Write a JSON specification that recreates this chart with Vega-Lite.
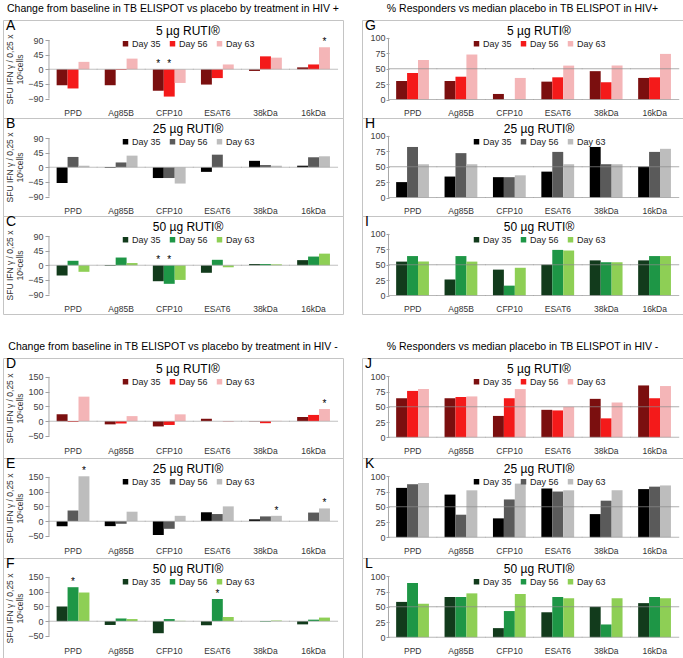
{
  "$schema": "https://vega.github.io/schema/vega-lite/v6.json",
  "padding": {"left": 2, "top": 4, "right": 1, "bottom": 1},
  "background": "white",
  "data": {"name": "elispot"},
  "datasets": {
    "elispot": [
      {"panel":"A","antigen":"PPD","day":"Day 35","value":-49},
      {"panel":"A","antigen":"PPD","day":"Day 56","value":-59},
      {"panel":"A","antigen":"PPD","day":"Day 63","value":23},
      {"panel":"A","antigen":"Ag85B","day":"Day 35","value":-49},
      {"panel":"A","antigen":"Ag85B","day":"Day 56","value":-2},
      {"panel":"A","antigen":"Ag85B","day":"Day 63","value":33},
      {"panel":"A","antigen":"CFP10","day":"Day 35","value":-66,"sig":1},
      {"panel":"A","antigen":"CFP10","day":"Day 56","value":-84,"sig":1},
      {"panel":"A","antigen":"CFP10","day":"Day 63","value":-42},
      {"panel":"A","antigen":"ESAT6","day":"Day 35","value":-47},
      {"panel":"A","antigen":"ESAT6","day":"Day 56","value":-27},
      {"panel":"A","antigen":"ESAT6","day":"Day 63","value":15},
      {"panel":"A","antigen":"38kDa","day":"Day 35","value":-5},
      {"panel":"A","antigen":"38kDa","day":"Day 56","value":40},
      {"panel":"A","antigen":"38kDa","day":"Day 63","value":36},
      {"panel":"A","antigen":"16kDa","day":"Day 35","value":6},
      {"panel":"A","antigen":"16kDa","day":"Day 56","value":15},
      {"panel":"A","antigen":"16kDa","day":"Day 63","value":68,"sig":1},

      {"panel":"B","antigen":"PPD","day":"Day 35","value":-48},
      {"panel":"B","antigen":"PPD","day":"Day 56","value":32},
      {"panel":"B","antigen":"PPD","day":"Day 63","value":5},
      {"panel":"B","antigen":"Ag85B","day":"Day 35","value":-2},
      {"panel":"B","antigen":"Ag85B","day":"Day 56","value":15},
      {"panel":"B","antigen":"Ag85B","day":"Day 63","value":36},
      {"panel":"B","antigen":"CFP10","day":"Day 35","value":-33},
      {"panel":"B","antigen":"CFP10","day":"Day 56","value":-33},
      {"panel":"B","antigen":"CFP10","day":"Day 63","value":-50},
      {"panel":"B","antigen":"ESAT6","day":"Day 35","value":-14},
      {"panel":"B","antigen":"ESAT6","day":"Day 56","value":39},
      {"panel":"B","antigen":"ESAT6","day":"Day 63","value":0},
      {"panel":"B","antigen":"38kDa","day":"Day 35","value":20},
      {"panel":"B","antigen":"38kDa","day":"Day 56","value":7},
      {"panel":"B","antigen":"38kDa","day":"Day 63","value":5},
      {"panel":"B","antigen":"16kDa","day":"Day 35","value":5},
      {"panel":"B","antigen":"16kDa","day":"Day 56","value":31},
      {"panel":"B","antigen":"16kDa","day":"Day 63","value":34},

      {"panel":"C","antigen":"PPD","day":"Day 35","value":-31},
      {"panel":"C","antigen":"PPD","day":"Day 56","value":14},
      {"panel":"C","antigen":"PPD","day":"Day 63","value":-20},
      {"panel":"C","antigen":"Ag85B","day":"Day 35","value":-2},
      {"panel":"C","antigen":"Ag85B","day":"Day 56","value":24},
      {"panel":"C","antigen":"Ag85B","day":"Day 63","value":7},
      {"panel":"C","antigen":"CFP10","day":"Day 35","value":-49,"sig":1},
      {"panel":"C","antigen":"CFP10","day":"Day 56","value":-57,"sig":1},
      {"panel":"C","antigen":"CFP10","day":"Day 63","value":-45},
      {"panel":"C","antigen":"ESAT6","day":"Day 35","value":-23},
      {"panel":"C","antigen":"ESAT6","day":"Day 56","value":17},
      {"panel":"C","antigen":"ESAT6","day":"Day 63","value":-6},
      {"panel":"C","antigen":"38kDa","day":"Day 35","value":4},
      {"panel":"C","antigen":"38kDa","day":"Day 56","value":4},
      {"panel":"C","antigen":"38kDa","day":"Day 63","value":3},
      {"panel":"C","antigen":"16kDa","day":"Day 35","value":16},
      {"panel":"C","antigen":"16kDa","day":"Day 56","value":27},
      {"panel":"C","antigen":"16kDa","day":"Day 63","value":36},

      {"panel":"D","antigen":"PPD","day":"Day 35","value":23},
      {"panel":"D","antigen":"PPD","day":"Day 56","value":-3},
      {"panel":"D","antigen":"PPD","day":"Day 63","value":83},
      {"panel":"D","antigen":"Ag85B","day":"Day 35","value":-11},
      {"panel":"D","antigen":"Ag85B","day":"Day 56","value":-8},
      {"panel":"D","antigen":"Ag85B","day":"Day 63","value":17},
      {"panel":"D","antigen":"CFP10","day":"Day 35","value":-18},
      {"panel":"D","antigen":"CFP10","day":"Day 56","value":-13},
      {"panel":"D","antigen":"CFP10","day":"Day 63","value":23},
      {"panel":"D","antigen":"ESAT6","day":"Day 35","value":8},
      {"panel":"D","antigen":"ESAT6","day":"Day 56","value":0},
      {"panel":"D","antigen":"ESAT6","day":"Day 63","value":-3},
      {"panel":"D","antigen":"38kDa","day":"Day 35","value":-1},
      {"panel":"D","antigen":"38kDa","day":"Day 56","value":-7},
      {"panel":"D","antigen":"38kDa","day":"Day 63","value":1},
      {"panel":"D","antigen":"16kDa","day":"Day 35","value":14},
      {"panel":"D","antigen":"16kDa","day":"Day 56","value":21},
      {"panel":"D","antigen":"16kDa","day":"Day 63","value":41,"sig":1},

      {"panel":"E","antigen":"PPD","day":"Day 35","value":-17},
      {"panel":"E","antigen":"PPD","day":"Day 56","value":36},
      {"panel":"E","antigen":"PPD","day":"Day 63","value":152,"sig":1},
      {"panel":"E","antigen":"Ag85B","day":"Day 35","value":-17},
      {"panel":"E","antigen":"Ag85B","day":"Day 56","value":-9},
      {"panel":"E","antigen":"Ag85B","day":"Day 63","value":32},
      {"panel":"E","antigen":"CFP10","day":"Day 35","value":-47},
      {"panel":"E","antigen":"CFP10","day":"Day 56","value":-26},
      {"panel":"E","antigen":"CFP10","day":"Day 63","value":18},
      {"panel":"E","antigen":"ESAT6","day":"Day 35","value":30},
      {"panel":"E","antigen":"ESAT6","day":"Day 56","value":24},
      {"panel":"E","antigen":"ESAT6","day":"Day 63","value":50},
      {"panel":"E","antigen":"38kDa","day":"Day 35","value":6},
      {"panel":"E","antigen":"38kDa","day":"Day 56","value":16},
      {"panel":"E","antigen":"38kDa","day":"Day 63","value":18,"sig":1},
      {"panel":"E","antigen":"16kDa","day":"Day 35","value":0},
      {"panel":"E","antigen":"16kDa","day":"Day 56","value":29},
      {"panel":"E","antigen":"16kDa","day":"Day 63","value":43,"sig":1},

      {"panel":"F","antigen":"PPD","day":"Day 35","value":50},
      {"panel":"F","antigen":"PPD","day":"Day 56","value":115,"sig":1},
      {"panel":"F","antigen":"PPD","day":"Day 63","value":97},
      {"panel":"F","antigen":"Ag85B","day":"Day 35","value":-13},
      {"panel":"F","antigen":"Ag85B","day":"Day 56","value":9},
      {"panel":"F","antigen":"Ag85B","day":"Day 63","value":7},
      {"panel":"F","antigen":"CFP10","day":"Day 35","value":-41},
      {"panel":"F","antigen":"CFP10","day":"Day 56","value":7},
      {"panel":"F","antigen":"CFP10","day":"Day 63","value":1},
      {"panel":"F","antigen":"ESAT6","day":"Day 35","value":-14},
      {"panel":"F","antigen":"ESAT6","day":"Day 56","value":75,"sig":1},
      {"panel":"F","antigen":"ESAT6","day":"Day 63","value":14},
      {"panel":"F","antigen":"38kDa","day":"Day 35","value":0},
      {"panel":"F","antigen":"38kDa","day":"Day 56","value":-2},
      {"panel":"F","antigen":"38kDa","day":"Day 63","value":2},
      {"panel":"F","antigen":"16kDa","day":"Day 35","value":-11},
      {"panel":"F","antigen":"16kDa","day":"Day 56","value":5},
      {"panel":"F","antigen":"16kDa","day":"Day 63","value":12},

      {"panel":"G","antigen":"PPD","day":"Day 35","value":30},
      {"panel":"G","antigen":"PPD","day":"Day 56","value":43},
      {"panel":"G","antigen":"PPD","day":"Day 63","value":64},
      {"panel":"G","antigen":"Ag85B","day":"Day 35","value":30},
      {"panel":"G","antigen":"Ag85B","day":"Day 56","value":37},
      {"panel":"G","antigen":"Ag85B","day":"Day 63","value":73},
      {"panel":"G","antigen":"CFP10","day":"Day 35","value":9},
      {"panel":"G","antigen":"CFP10","day":"Day 56","value":0},
      {"panel":"G","antigen":"CFP10","day":"Day 63","value":35},
      {"panel":"G","antigen":"ESAT6","day":"Day 35","value":29},
      {"panel":"G","antigen":"ESAT6","day":"Day 56","value":36},
      {"panel":"G","antigen":"ESAT6","day":"Day 63","value":55},
      {"panel":"G","antigen":"38kDa","day":"Day 35","value":46},
      {"panel":"G","antigen":"38kDa","day":"Day 56","value":28},
      {"panel":"G","antigen":"38kDa","day":"Day 63","value":55},
      {"panel":"G","antigen":"16kDa","day":"Day 35","value":35},
      {"panel":"G","antigen":"16kDa","day":"Day 56","value":36},
      {"panel":"G","antigen":"16kDa","day":"Day 63","value":74},

      {"panel":"H","antigen":"PPD","day":"Day 35","value":25},
      {"panel":"H","antigen":"PPD","day":"Day 56","value":82},
      {"panel":"H","antigen":"PPD","day":"Day 63","value":54},
      {"panel":"H","antigen":"Ag85B","day":"Day 35","value":34},
      {"panel":"H","antigen":"Ag85B","day":"Day 56","value":72},
      {"panel":"H","antigen":"Ag85B","day":"Day 63","value":54},
      {"panel":"H","antigen":"CFP10","day":"Day 35","value":33},
      {"panel":"H","antigen":"CFP10","day":"Day 56","value":33},
      {"panel":"H","antigen":"CFP10","day":"Day 63","value":36},
      {"panel":"H","antigen":"ESAT6","day":"Day 35","value":42},
      {"panel":"H","antigen":"ESAT6","day":"Day 56","value":74},
      {"panel":"H","antigen":"ESAT6","day":"Day 63","value":54},
      {"panel":"H","antigen":"38kDa","day":"Day 35","value":82},
      {"panel":"H","antigen":"38kDa","day":"Day 56","value":54},
      {"panel":"H","antigen":"38kDa","day":"Day 63","value":54},
      {"panel":"H","antigen":"16kDa","day":"Day 35","value":50},
      {"panel":"H","antigen":"16kDa","day":"Day 56","value":74},
      {"panel":"H","antigen":"16kDa","day":"Day 63","value":79},

      {"panel":"I","antigen":"PPD","day":"Day 35","value":55},
      {"panel":"I","antigen":"PPD","day":"Day 56","value":64},
      {"panel":"I","antigen":"PPD","day":"Day 63","value":55},
      {"panel":"I","antigen":"Ag85B","day":"Day 35","value":26},
      {"panel":"I","antigen":"Ag85B","day":"Day 56","value":64},
      {"panel":"I","antigen":"Ag85B","day":"Day 63","value":55},
      {"panel":"I","antigen":"CFP10","day":"Day 35","value":42},
      {"panel":"I","antigen":"CFP10","day":"Day 56","value":16},
      {"panel":"I","antigen":"CFP10","day":"Day 63","value":45},
      {"panel":"I","antigen":"ESAT6","day":"Day 35","value":50},
      {"panel":"I","antigen":"ESAT6","day":"Day 56","value":74},
      {"panel":"I","antigen":"ESAT6","day":"Day 63","value":73},
      {"panel":"I","antigen":"38kDa","day":"Day 35","value":57},
      {"panel":"I","antigen":"38kDa","day":"Day 56","value":54},
      {"panel":"I","antigen":"38kDa","day":"Day 63","value":54},
      {"panel":"I","antigen":"16kDa","day":"Day 35","value":57},
      {"panel":"I","antigen":"16kDa","day":"Day 56","value":64},
      {"panel":"I","antigen":"16kDa","day":"Day 63","value":64},

      {"panel":"J","antigen":"PPD","day":"Day 35","value":64},
      {"panel":"J","antigen":"PPD","day":"Day 56","value":76},
      {"panel":"J","antigen":"PPD","day":"Day 63","value":79},
      {"panel":"J","antigen":"Ag85B","day":"Day 35","value":64},
      {"panel":"J","antigen":"Ag85B","day":"Day 56","value":66},
      {"panel":"J","antigen":"Ag85B","day":"Day 63","value":67},
      {"panel":"J","antigen":"CFP10","day":"Day 35","value":35},
      {"panel":"J","antigen":"CFP10","day":"Day 56","value":64},
      {"panel":"J","antigen":"CFP10","day":"Day 63","value":79},
      {"panel":"J","antigen":"ESAT6","day":"Day 35","value":45},
      {"panel":"J","antigen":"ESAT6","day":"Day 56","value":44},
      {"panel":"J","antigen":"ESAT6","day":"Day 63","value":50},
      {"panel":"J","antigen":"38kDa","day":"Day 35","value":63},
      {"panel":"J","antigen":"38kDa","day":"Day 56","value":31},
      {"panel":"J","antigen":"38kDa","day":"Day 63","value":57},
      {"panel":"J","antigen":"16kDa","day":"Day 35","value":85},
      {"panel":"J","antigen":"16kDa","day":"Day 56","value":64},
      {"panel":"J","antigen":"16kDa","day":"Day 63","value":84},

      {"panel":"K","antigen":"PPD","day":"Day 35","value":81},
      {"panel":"K","antigen":"PPD","day":"Day 56","value":87},
      {"panel":"K","antigen":"PPD","day":"Day 63","value":89},
      {"panel":"K","antigen":"Ag85B","day":"Day 35","value":70},
      {"panel":"K","antigen":"Ag85B","day":"Day 56","value":37},
      {"panel":"K","antigen":"Ag85B","day":"Day 63","value":77},
      {"panel":"K","antigen":"CFP10","day":"Day 35","value":31},
      {"panel":"K","antigen":"CFP10","day":"Day 56","value":62},
      {"panel":"K","antigen":"CFP10","day":"Day 63","value":88},
      {"panel":"K","antigen":"ESAT6","day":"Day 35","value":80},
      {"panel":"K","antigen":"ESAT6","day":"Day 56","value":75},
      {"panel":"K","antigen":"ESAT6","day":"Day 63","value":77},
      {"panel":"K","antigen":"38kDa","day":"Day 35","value":38},
      {"panel":"K","antigen":"38kDa","day":"Day 56","value":60},
      {"panel":"K","antigen":"38kDa","day":"Day 63","value":77},
      {"panel":"K","antigen":"16kDa","day":"Day 35","value":79},
      {"panel":"K","antigen":"16kDa","day":"Day 56","value":83},
      {"panel":"K","antigen":"16kDa","day":"Day 63","value":85},

      {"panel":"L","antigen":"PPD","day":"Day 35","value":58},
      {"panel":"L","antigen":"PPD","day":"Day 56","value":89},
      {"panel":"L","antigen":"PPD","day":"Day 63","value":55},
      {"panel":"L","antigen":"Ag85B","day":"Day 35","value":66},
      {"panel":"L","antigen":"Ag85B","day":"Day 56","value":66},
      {"panel":"L","antigen":"Ag85B","day":"Day 63","value":72},
      {"panel":"L","antigen":"CFP10","day":"Day 35","value":15},
      {"panel":"L","antigen":"CFP10","day":"Day 56","value":43},
      {"panel":"L","antigen":"CFP10","day":"Day 63","value":71},
      {"panel":"L","antigen":"ESAT6","day":"Day 35","value":41},
      {"panel":"L","antigen":"ESAT6","day":"Day 56","value":66},
      {"panel":"L","antigen":"ESAT6","day":"Day 63","value":64},
      {"panel":"L","antigen":"38kDa","day":"Day 35","value":50},
      {"panel":"L","antigen":"38kDa","day":"Day 56","value":21},
      {"panel":"L","antigen":"38kDa","day":"Day 63","value":64},
      {"panel":"L","antigen":"16kDa","day":"Day 35","value":56},
      {"panel":"L","antigen":"16kDa","day":"Day 56","value":66},
      {"panel":"L","antigen":"16kDa","day":"Day 63","value":64}
    ]
  },
  "spacing": 27,
  "resolve": {"scale": {"color": "independent"}},
  "vconcat": [
    {
      "spacing": 17,
      "resolve": {"scale": {"color": "independent"}},
      "hconcat": [
        {
          "title": {"text": "Change from baseline in TB ELISPOT vs placebo by treatment in HIV +", "anchor": "middle", "fontSize": 10.5, "fontWeight": "normal", "color": "#000000", "offset": 4},
          "spacing": 0,
          "bounds": "flush",
          "resolve": {"scale": {"color": "independent"}},
          "vconcat": [
            {
              "width": 340, "height": 98,
              "transform": [{"filter": "datum.panel == 'A'"}],
              "title": {"text": "A", "anchor": "start", "frame": "group", "offset": -13, "dx": 3, "fontSize": 14, "fontWeight": "normal", "color": "#000000"},
              "layer": [
                {"mark": {"type": "bar"},
                 "encoding": {
                   "x": {"field": "antigen", "type": "nominal", "scale": {"domain": ["PPD","Ag85B","CFP10","ESAT6","38kDa","16kDa"], "paddingInner": 0, "paddingOuter": 0.534, "align": 0.895}, "axis": {"title": null, "offset": -12, "domain": false, "ticks": false, "labelAngle": 0, "labelPadding": 2, "labelFontSize": 8.5, "labelColor": "#333333", "labelOverlap": false}},
                   "xOffset": {"field": "day", "type": "nominal", "scale": {"paddingInner": 0, "paddingOuter": 0.7}},
                   "y": {"field": "value", "type": "quantitative", "scale": {"domain": [-150, 152], "nice": false}, "axis": {"values": [-90,-45,0,45,90], "tickCount": 10, "offset": -46, "domain": false, "grid": false, "tickSize": 4, "tickColor": "#a0a0a0", "labelFontSize": 9, "labelColor": "#404040", "labelPadding": 2, "labelOverlap": false, "title": ["SFU IFN γ / 0,25 x", "10⁶cells"], "titleFontSize": 8.5, "titleFontWeight": "normal", "titleColor": "#333333", "titlePadding": 3}},
                   "color": {"field": "day", "type": "nominal", "scale": {"domain": ["Day 35","Day 56","Day 63"], "range": ["#7b0f0f","#f41a1a","#f4b5b7"]}, "legend": {"title": "5 µg RUTI®", "legendX": 118, "legendY": 6}}
                 }},
                {"transform": [{"filter": "datum.day == 'Day 35'"}], "mark": {"type": "tick", "orient": "horizontal", "size": 49, "thickness": 1, "color": "#a6a6a6"}, "encoding": {"x": {"field": "antigen", "type": "nominal"}, "y": {"datum": 0}}},
                {"transform": [{"filter": "datum.day == 'Day 35' && datum.antigen == 'PPD'"}], "mark": {"type": "rule", "color": "#a6a6a6", "strokeWidth": 1}, "encoding": {"x": {"field": "antigen", "type": "nominal", "bandPosition": 0}, "y": {"datum": -90}, "y2": {"datum": 90}}},
                {"transform": [{"filter": "datum.sig == 1 && datum.value > 0"}], "mark": {"type": "text", "text": "*", "fontSize": 10, "baseline": "bottom", "color": "#000000"}, "encoding": {"x": {"field": "antigen", "type": "nominal"}, "xOffset": {"field": "day", "type": "nominal"}, "y": {"field": "value", "type": "quantitative"}}},
                {"transform": [{"filter": "datum.sig == 1 && datum.value <= 0"}], "mark": {"type": "text", "text": "*", "fontSize": 10, "baseline": "bottom", "color": "#000000"}, "encoding": {"x": {"field": "antigen", "type": "nominal"}, "xOffset": {"field": "day", "type": "nominal"}, "y": {"datum": 0}}}
              ]
            },
            {
              "width": 340, "height": 98,
              "transform": [{"filter": "datum.panel == 'B'"}],
              "title": {"text": "B", "anchor": "start", "frame": "group", "offset": -13, "dx": 3, "fontSize": 14, "fontWeight": "normal", "color": "#000000"},
              "layer": [
                {"mark": {"type": "bar"},
                 "encoding": {
                   "x": {"field": "antigen", "type": "nominal", "scale": {"domain": ["PPD","Ag85B","CFP10","ESAT6","38kDa","16kDa"], "paddingInner": 0, "paddingOuter": 0.534, "align": 0.895}, "axis": {"title": null, "offset": -12, "domain": false, "ticks": false, "labelAngle": 0, "labelPadding": 2, "labelFontSize": 8.5, "labelColor": "#333333", "labelOverlap": false}},
                   "xOffset": {"field": "day", "type": "nominal", "scale": {"paddingInner": 0, "paddingOuter": 0.7}},
                   "y": {"field": "value", "type": "quantitative", "scale": {"domain": [-150, 152], "nice": false}, "axis": {"values": [-90,-45,0,45,90], "tickCount": 10, "offset": -46, "domain": false, "grid": false, "tickSize": 4, "tickColor": "#a0a0a0", "labelFontSize": 9, "labelColor": "#404040", "labelPadding": 2, "labelOverlap": false, "title": ["SFU IFN γ / 0,25 x", "10⁶cells"], "titleFontSize": 8.5, "titleFontWeight": "normal", "titleColor": "#333333", "titlePadding": 3}},
                   "color": {"field": "day", "type": "nominal", "scale": {"domain": ["Day 35","Day 56","Day 63"], "range": ["#000000","#5a5a5a","#bdbdbd"]}, "legend": {"title": "25 µg RUTI®", "legendX": 118, "legendY": 6}}
                 }},
                {"transform": [{"filter": "datum.day == 'Day 35'"}], "mark": {"type": "tick", "orient": "horizontal", "size": 49, "thickness": 1, "color": "#a6a6a6"}, "encoding": {"x": {"field": "antigen", "type": "nominal"}, "y": {"datum": 0}}},
                {"transform": [{"filter": "datum.day == 'Day 35' && datum.antigen == 'PPD'"}], "mark": {"type": "rule", "color": "#a6a6a6", "strokeWidth": 1}, "encoding": {"x": {"field": "antigen", "type": "nominal", "bandPosition": 0}, "y": {"datum": -90}, "y2": {"datum": 90}}}
              ]
            },
            {
              "width": 340, "height": 98,
              "transform": [{"filter": "datum.panel == 'C'"}],
              "title": {"text": "C", "anchor": "start", "frame": "group", "offset": -13, "dx": 3, "fontSize": 14, "fontWeight": "normal", "color": "#000000"},
              "layer": [
                {"mark": {"type": "bar"},
                 "encoding": {
                   "x": {"field": "antigen", "type": "nominal", "scale": {"domain": ["PPD","Ag85B","CFP10","ESAT6","38kDa","16kDa"], "paddingInner": 0, "paddingOuter": 0.534, "align": 0.895}, "axis": {"title": null, "offset": -12, "domain": false, "ticks": false, "labelAngle": 0, "labelPadding": 2, "labelFontSize": 8.5, "labelColor": "#333333", "labelOverlap": false}},
                   "xOffset": {"field": "day", "type": "nominal", "scale": {"paddingInner": 0, "paddingOuter": 0.7}},
                   "y": {"field": "value", "type": "quantitative", "scale": {"domain": [-150, 152], "nice": false}, "axis": {"values": [-90,-45,0,45,90], "tickCount": 10, "offset": -46, "domain": false, "grid": false, "tickSize": 4, "tickColor": "#a0a0a0", "labelFontSize": 9, "labelColor": "#404040", "labelPadding": 2, "labelOverlap": false, "title": ["SFU IFN γ / 0,25 x", "10⁶cells"], "titleFontSize": 8.5, "titleFontWeight": "normal", "titleColor": "#333333", "titlePadding": 3}},
                   "color": {"field": "day", "type": "nominal", "scale": {"domain": ["Day 35","Day 56","Day 63"], "range": ["#123b1c","#1e9646","#8ecf55"]}, "legend": {"title": "50 µg RUTI®", "legendX": 118, "legendY": 6}}
                 }},
                {"transform": [{"filter": "datum.day == 'Day 35'"}], "mark": {"type": "tick", "orient": "horizontal", "size": 49, "thickness": 1, "color": "#a6a6a6"}, "encoding": {"x": {"field": "antigen", "type": "nominal"}, "y": {"datum": 0}}},
                {"transform": [{"filter": "datum.day == 'Day 35' && datum.antigen == 'PPD'"}], "mark": {"type": "rule", "color": "#a6a6a6", "strokeWidth": 1}, "encoding": {"x": {"field": "antigen", "type": "nominal", "bandPosition": 0}, "y": {"datum": -90}, "y2": {"datum": 90}}},
                {"transform": [{"filter": "datum.sig == 1 && datum.value > 0"}], "mark": {"type": "text", "text": "*", "fontSize": 10, "baseline": "bottom", "color": "#000000"}, "encoding": {"x": {"field": "antigen", "type": "nominal"}, "xOffset": {"field": "day", "type": "nominal"}, "y": {"field": "value", "type": "quantitative"}}},
                {"transform": [{"filter": "datum.sig == 1 && datum.value <= 0"}], "mark": {"type": "text", "text": "*", "fontSize": 10, "baseline": "bottom", "color": "#000000"}, "encoding": {"x": {"field": "antigen", "type": "nominal"}, "xOffset": {"field": "day", "type": "nominal"}, "y": {"datum": 0}}}
              ]
            }
          ]
        },
        {
          "title": {"text": "% Responders vs median placebo in TB ELISPOT in HIV+", "anchor": "middle", "fontSize": 10.5, "fontWeight": "normal", "color": "#000000", "offset": 4},
          "spacing": 0,
          "bounds": "flush",
          "resolve": {"scale": {"color": "independent"}},
          "vconcat": [
            {
              "width": 321, "height": 98,
              "transform": [{"filter": "datum.panel == 'G'"}],
              "title": {"text": "G", "anchor": "start", "frame": "group", "offset": -13, "dx": 3, "fontSize": 14, "fontWeight": "normal", "color": "#000000"},
              "layer": [
                {"mark": {"type": "bar"},
                 "encoding": {
                   "x": {"field": "antigen", "type": "nominal", "scale": {"domain": ["PPD","Ag85B","CFP10","ESAT6","38kDa","16kDa"], "paddingInner": 0, "paddingOuter": 0.316, "align": 0.866}, "axis": {"title": null, "offset": -12, "domain": false, "ticks": false, "labelAngle": 0, "labelPadding": 2, "labelFontSize": 8.5, "labelColor": "#333333", "labelOverlap": false}},
                   "xOffset": {"field": "day", "type": "nominal", "scale": {"paddingInner": 0, "paddingOuter": 0.7}},
                   "y": {"field": "value", "type": "quantitative", "scale": {"domain": [-30, 129], "nice": false}, "axis": {"values": [0,25,50,75,100], "tickCount": 10, "offset": -27, "domain": false, "grid": false, "tickSize": 3, "tickColor": "#a0a0a0", "labelFontSize": 9, "labelColor": "#404040", "labelPadding": 1, "labelOverlap": false, "title": null}},
                   "color": {"field": "day", "type": "nominal", "scale": {"domain": ["Day 35","Day 56","Day 63"], "range": ["#7b0f0f","#f41a1a","#f4b5b7"]}, "legend": {"title": "5 µg RUTI®", "legendX": 110, "legendY": 6}}
                 }},
                {"transform": [{"filter": "datum.day == 'Day 35'"}], "mark": {"type": "tick", "orient": "horizontal", "size": 49, "thickness": 1, "color": "#999999"}, "encoding": {"x": {"field": "antigen", "type": "nominal"}, "y": {"datum": 0}}},
                {"transform": [{"filter": "datum.day == 'Day 35'"}], "mark": {"type": "tick", "orient": "horizontal", "size": 49, "thickness": 1, "color": "#8c8c8c"}, "encoding": {"x": {"field": "antigen", "type": "nominal"}, "y": {"datum": 50}}},
                {"transform": [{"filter": "datum.day == 'Day 35' && datum.antigen == 'PPD'"}], "mark": {"type": "rule", "color": "#a6a6a6", "strokeWidth": 1}, "encoding": {"x": {"field": "antigen", "type": "nominal", "bandPosition": 0}, "y": {"datum": 0}, "y2": {"datum": 100}}}
              ]
            },
            {
              "width": 321, "height": 98,
              "transform": [{"filter": "datum.panel == 'H'"}],
              "title": {"text": "H", "anchor": "start", "frame": "group", "offset": -13, "dx": 3, "fontSize": 14, "fontWeight": "normal", "color": "#000000"},
              "layer": [
                {"mark": {"type": "bar"},
                 "encoding": {
                   "x": {"field": "antigen", "type": "nominal", "scale": {"domain": ["PPD","Ag85B","CFP10","ESAT6","38kDa","16kDa"], "paddingInner": 0, "paddingOuter": 0.316, "align": 0.866}, "axis": {"title": null, "offset": -12, "domain": false, "ticks": false, "labelAngle": 0, "labelPadding": 2, "labelFontSize": 8.5, "labelColor": "#333333", "labelOverlap": false}},
                   "xOffset": {"field": "day", "type": "nominal", "scale": {"paddingInner": 0, "paddingOuter": 0.7}},
                   "y": {"field": "value", "type": "quantitative", "scale": {"domain": [-30, 129], "nice": false}, "axis": {"values": [0,25,50,75,100], "tickCount": 10, "offset": -27, "domain": false, "grid": false, "tickSize": 3, "tickColor": "#a0a0a0", "labelFontSize": 9, "labelColor": "#404040", "labelPadding": 1, "labelOverlap": false, "title": null}},
                   "color": {"field": "day", "type": "nominal", "scale": {"domain": ["Day 35","Day 56","Day 63"], "range": ["#000000","#5a5a5a","#bdbdbd"]}, "legend": {"title": "25 µg RUTI®", "legendX": 110, "legendY": 6}}
                 }},
                {"transform": [{"filter": "datum.day == 'Day 35'"}], "mark": {"type": "tick", "orient": "horizontal", "size": 49, "thickness": 1, "color": "#999999"}, "encoding": {"x": {"field": "antigen", "type": "nominal"}, "y": {"datum": 0}}},
                {"transform": [{"filter": "datum.day == 'Day 35'"}], "mark": {"type": "tick", "orient": "horizontal", "size": 49, "thickness": 1, "color": "#8c8c8c"}, "encoding": {"x": {"field": "antigen", "type": "nominal"}, "y": {"datum": 50}}},
                {"transform": [{"filter": "datum.day == 'Day 35' && datum.antigen == 'PPD'"}], "mark": {"type": "rule", "color": "#a6a6a6", "strokeWidth": 1}, "encoding": {"x": {"field": "antigen", "type": "nominal", "bandPosition": 0}, "y": {"datum": 0}, "y2": {"datum": 100}}}
              ]
            },
            {
              "width": 321, "height": 98,
              "transform": [{"filter": "datum.panel == 'I'"}],
              "title": {"text": "I", "anchor": "start", "frame": "group", "offset": -13, "dx": 3, "fontSize": 14, "fontWeight": "normal", "color": "#000000"},
              "layer": [
                {"mark": {"type": "bar"},
                 "encoding": {
                   "x": {"field": "antigen", "type": "nominal", "scale": {"domain": ["PPD","Ag85B","CFP10","ESAT6","38kDa","16kDa"], "paddingInner": 0, "paddingOuter": 0.316, "align": 0.866}, "axis": {"title": null, "offset": -12, "domain": false, "ticks": false, "labelAngle": 0, "labelPadding": 2, "labelFontSize": 8.5, "labelColor": "#333333", "labelOverlap": false}},
                   "xOffset": {"field": "day", "type": "nominal", "scale": {"paddingInner": 0, "paddingOuter": 0.7}},
                   "y": {"field": "value", "type": "quantitative", "scale": {"domain": [-30, 129], "nice": false}, "axis": {"values": [0,25,50,75,100], "tickCount": 10, "offset": -27, "domain": false, "grid": false, "tickSize": 3, "tickColor": "#a0a0a0", "labelFontSize": 9, "labelColor": "#404040", "labelPadding": 1, "labelOverlap": false, "title": null}},
                   "color": {"field": "day", "type": "nominal", "scale": {"domain": ["Day 35","Day 56","Day 63"], "range": ["#123b1c","#1e9646","#8ecf55"]}, "legend": {"title": "50 µg RUTI®", "legendX": 110, "legendY": 6}}
                 }},
                {"transform": [{"filter": "datum.day == 'Day 35'"}], "mark": {"type": "tick", "orient": "horizontal", "size": 49, "thickness": 1, "color": "#999999"}, "encoding": {"x": {"field": "antigen", "type": "nominal"}, "y": {"datum": 0}}},
                {"transform": [{"filter": "datum.day == 'Day 35'"}], "mark": {"type": "tick", "orient": "horizontal", "size": 49, "thickness": 1, "color": "#8c8c8c"}, "encoding": {"x": {"field": "antigen", "type": "nominal"}, "y": {"datum": 50}}},
                {"transform": [{"filter": "datum.day == 'Day 35' && datum.antigen == 'PPD'"}], "mark": {"type": "rule", "color": "#a6a6a6", "strokeWidth": 1}, "encoding": {"x": {"field": "antigen", "type": "nominal", "bandPosition": 0}, "y": {"datum": 0}, "y2": {"datum": 100}}}
              ]
            }
          ]
        }
      ]
    },
    {
      "spacing": 17,
      "resolve": {"scale": {"color": "independent"}},
      "hconcat": [
        {
          "title": {"text": "Change from baseline in TB ELISPOT vs placebo by treatment in HIV -", "anchor": "middle", "fontSize": 10.5, "fontWeight": "normal", "color": "#000000", "offset": 4},
          "spacing": 0,
          "bounds": "flush",
          "resolve": {"scale": {"color": "independent"}},
          "vconcat": [
            {
              "width": 340, "height": 100,
              "transform": [{"filter": "datum.panel == 'D'"}],
              "title": {"text": "D", "anchor": "start", "frame": "group", "offset": -13, "dx": 3, "fontSize": 14, "fontWeight": "normal", "color": "#000000"},
              "layer": [
                {"mark": {"type": "bar"},
                 "encoding": {
                   "x": {"field": "antigen", "type": "nominal", "scale": {"domain": ["PPD","Ag85B","CFP10","ESAT6","38kDa","16kDa"], "paddingInner": 0, "paddingOuter": 0.534, "align": 0.895}, "axis": {"title": null, "offset": -14, "domain": false, "ticks": false, "labelAngle": 0, "labelPadding": 2, "labelFontSize": 8.5, "labelColor": "#333333", "labelOverlap": false}},
                   "xOffset": {"field": "day", "type": "nominal", "scale": {"paddingInner": 0, "paddingOuter": 0.7}},
                   "y": {"field": "value", "type": "quantitative", "scale": {"domain": [-125, 214], "nice": false}, "axis": {"values": [-50,0,50,100,150], "tickCount": 10, "offset": -46, "domain": false, "grid": false, "tickSize": 4, "tickColor": "#a0a0a0", "labelFontSize": 9, "labelColor": "#404040", "labelPadding": 2, "labelOverlap": false, "title": ["SFU IFN γ / 0,25 x", "10⁶cells"], "titleFontSize": 8.5, "titleFontWeight": "normal", "titleColor": "#333333", "titlePadding": 3}},
                   "color": {"field": "day", "type": "nominal", "scale": {"domain": ["Day 35","Day 56","Day 63"], "range": ["#7b0f0f","#f41a1a","#f4b5b7"]}, "legend": {"title": "5 µg RUTI®", "legendX": 118, "legendY": 6}}
                 }},
                {"transform": [{"filter": "datum.day == 'Day 35'"}], "mark": {"type": "tick", "orient": "horizontal", "size": 49, "thickness": 1, "color": "#a6a6a6"}, "encoding": {"x": {"field": "antigen", "type": "nominal"}, "y": {"datum": 0}}},
                {"transform": [{"filter": "datum.day == 'Day 35' && datum.antigen == 'PPD'"}], "mark": {"type": "rule", "color": "#a6a6a6", "strokeWidth": 1}, "encoding": {"x": {"field": "antigen", "type": "nominal", "bandPosition": 0}, "y": {"datum": -50}, "y2": {"datum": 150}}},
                {"transform": [{"filter": "datum.sig == 1 && datum.value > 0"}], "mark": {"type": "text", "text": "*", "fontSize": 10, "baseline": "bottom", "color": "#000000"}, "encoding": {"x": {"field": "antigen", "type": "nominal"}, "xOffset": {"field": "day", "type": "nominal"}, "y": {"field": "value", "type": "quantitative"}}}
              ]
            },
            {
              "width": 340, "height": 100,
              "transform": [{"filter": "datum.panel == 'E'"}],
              "title": {"text": "E", "anchor": "start", "frame": "group", "offset": -13, "dx": 3, "fontSize": 14, "fontWeight": "normal", "color": "#000000"},
              "layer": [
                {"mark": {"type": "bar"},
                 "encoding": {
                   "x": {"field": "antigen", "type": "nominal", "scale": {"domain": ["PPD","Ag85B","CFP10","ESAT6","38kDa","16kDa"], "paddingInner": 0, "paddingOuter": 0.534, "align": 0.895}, "axis": {"title": null, "offset": -14, "domain": false, "ticks": false, "labelAngle": 0, "labelPadding": 2, "labelFontSize": 8.5, "labelColor": "#333333", "labelOverlap": false}},
                   "xOffset": {"field": "day", "type": "nominal", "scale": {"paddingInner": 0, "paddingOuter": 0.7}},
                   "y": {"field": "value", "type": "quantitative", "scale": {"domain": [-125, 214], "nice": false}, "axis": {"values": [-50,0,50,100,150], "tickCount": 10, "offset": -46, "domain": false, "grid": false, "tickSize": 4, "tickColor": "#a0a0a0", "labelFontSize": 9, "labelColor": "#404040", "labelPadding": 2, "labelOverlap": false, "title": ["SFU IFN γ / 0,25 x", "10⁶cells"], "titleFontSize": 8.5, "titleFontWeight": "normal", "titleColor": "#333333", "titlePadding": 3}},
                   "color": {"field": "day", "type": "nominal", "scale": {"domain": ["Day 35","Day 56","Day 63"], "range": ["#000000","#5a5a5a","#bdbdbd"]}, "legend": {"title": "25 µg RUTI®", "legendX": 118, "legendY": 6}}
                 }},
                {"transform": [{"filter": "datum.day == 'Day 35'"}], "mark": {"type": "tick", "orient": "horizontal", "size": 49, "thickness": 1, "color": "#a6a6a6"}, "encoding": {"x": {"field": "antigen", "type": "nominal"}, "y": {"datum": 0}}},
                {"transform": [{"filter": "datum.day == 'Day 35' && datum.antigen == 'PPD'"}], "mark": {"type": "rule", "color": "#a6a6a6", "strokeWidth": 1}, "encoding": {"x": {"field": "antigen", "type": "nominal", "bandPosition": 0}, "y": {"datum": -50}, "y2": {"datum": 150}}},
                {"transform": [{"filter": "datum.sig == 1 && datum.value > 0"}], "mark": {"type": "text", "text": "*", "fontSize": 10, "baseline": "bottom", "color": "#000000"}, "encoding": {"x": {"field": "antigen", "type": "nominal"}, "xOffset": {"field": "day", "type": "nominal"}, "y": {"field": "value", "type": "quantitative"}}}
              ]
            },
            {
              "width": 340, "height": 100,
              "transform": [{"filter": "datum.panel == 'F'"}],
              "title": {"text": "F", "anchor": "start", "frame": "group", "offset": -13, "dx": 3, "fontSize": 14, "fontWeight": "normal", "color": "#000000"},
              "layer": [
                {"mark": {"type": "bar"},
                 "encoding": {
                   "x": {"field": "antigen", "type": "nominal", "scale": {"domain": ["PPD","Ag85B","CFP10","ESAT6","38kDa","16kDa"], "paddingInner": 0, "paddingOuter": 0.534, "align": 0.895}, "axis": {"title": null, "offset": -14, "domain": false, "ticks": false, "labelAngle": 0, "labelPadding": 2, "labelFontSize": 8.5, "labelColor": "#333333", "labelOverlap": false}},
                   "xOffset": {"field": "day", "type": "nominal", "scale": {"paddingInner": 0, "paddingOuter": 0.7}},
                   "y": {"field": "value", "type": "quantitative", "scale": {"domain": [-125, 214], "nice": false}, "axis": {"values": [-50,0,50,100,150], "tickCount": 10, "offset": -46, "domain": false, "grid": false, "tickSize": 4, "tickColor": "#a0a0a0", "labelFontSize": 9, "labelColor": "#404040", "labelPadding": 2, "labelOverlap": false, "title": ["SFU IFN γ / 0,25 x", "10⁶cells"], "titleFontSize": 8.5, "titleFontWeight": "normal", "titleColor": "#333333", "titlePadding": 3}},
                   "color": {"field": "day", "type": "nominal", "scale": {"domain": ["Day 35","Day 56","Day 63"], "range": ["#123b1c","#1e9646","#8ecf55"]}, "legend": {"title": "50 µg RUTI®", "legendX": 118, "legendY": 6}}
                 }},
                {"transform": [{"filter": "datum.day == 'Day 35'"}], "mark": {"type": "tick", "orient": "horizontal", "size": 49, "thickness": 1, "color": "#a6a6a6"}, "encoding": {"x": {"field": "antigen", "type": "nominal"}, "y": {"datum": 0}}},
                {"transform": [{"filter": "datum.day == 'Day 35' && datum.antigen == 'PPD'"}], "mark": {"type": "rule", "color": "#a6a6a6", "strokeWidth": 1}, "encoding": {"x": {"field": "antigen", "type": "nominal", "bandPosition": 0}, "y": {"datum": -50}, "y2": {"datum": 150}}},
                {"transform": [{"filter": "datum.sig == 1 && datum.value > 0"}], "mark": {"type": "text", "text": "*", "fontSize": 10, "baseline": "bottom", "color": "#000000"}, "encoding": {"x": {"field": "antigen", "type": "nominal"}, "xOffset": {"field": "day", "type": "nominal"}, "y": {"field": "value", "type": "quantitative"}}}
              ]
            }
          ]
        },
        {
          "title": {"text": "% Responders vs median placebo in TB ELISPOT in HIV -", "anchor": "middle", "fontSize": 10.5, "fontWeight": "normal", "color": "#000000", "offset": 4},
          "spacing": 0,
          "bounds": "flush",
          "resolve": {"scale": {"color": "independent"}},
          "vconcat": [
            {
              "width": 321, "height": 100,
              "transform": [{"filter": "datum.panel == 'J'"}],
              "title": {"text": "J", "anchor": "start", "frame": "group", "offset": -13, "dx": 3, "fontSize": 14, "fontWeight": "normal", "color": "#000000"},
              "layer": [
                {"mark": {"type": "bar"},
                 "encoding": {
                   "x": {"field": "antigen", "type": "nominal", "scale": {"domain": ["PPD","Ag85B","CFP10","ESAT6","38kDa","16kDa"], "paddingInner": 0, "paddingOuter": 0.316, "align": 0.866}, "axis": {"title": null, "offset": -14, "domain": false, "ticks": false, "labelAngle": 0, "labelPadding": 2, "labelFontSize": 8.5, "labelColor": "#333333", "labelOverlap": false}},
                   "xOffset": {"field": "day", "type": "nominal", "scale": {"paddingInner": 0, "paddingOuter": 0.7}},
                   "y": {"field": "value", "type": "quantitative", "scale": {"domain": [-34, 130], "nice": false}, "axis": {"values": [0,25,50,75,100], "tickCount": 10, "offset": -27, "domain": false, "grid": false, "tickSize": 3, "tickColor": "#a0a0a0", "labelFontSize": 9, "labelColor": "#404040", "labelPadding": 1, "labelOverlap": false, "title": null}},
                   "color": {"field": "day", "type": "nominal", "scale": {"domain": ["Day 35","Day 56","Day 63"], "range": ["#7b0f0f","#f41a1a","#f4b5b7"]}, "legend": {"title": "5 µg RUTI®", "legendX": 110, "legendY": 6}}
                 }},
                {"transform": [{"filter": "datum.day == 'Day 35'"}], "mark": {"type": "tick", "orient": "horizontal", "size": 49, "thickness": 1, "color": "#999999"}, "encoding": {"x": {"field": "antigen", "type": "nominal"}, "y": {"datum": 0}}},
                {"transform": [{"filter": "datum.day == 'Day 35'"}], "mark": {"type": "tick", "orient": "horizontal", "size": 49, "thickness": 1, "color": "#8c8c8c"}, "encoding": {"x": {"field": "antigen", "type": "nominal"}, "y": {"datum": 50}}},
                {"transform": [{"filter": "datum.day == 'Day 35' && datum.antigen == 'PPD'"}], "mark": {"type": "rule", "color": "#a6a6a6", "strokeWidth": 1}, "encoding": {"x": {"field": "antigen", "type": "nominal", "bandPosition": 0}, "y": {"datum": 0}, "y2": {"datum": 100}}}
              ]
            },
            {
              "width": 321, "height": 100,
              "transform": [{"filter": "datum.panel == 'K'"}],
              "title": {"text": "K", "anchor": "start", "frame": "group", "offset": -13, "dx": 3, "fontSize": 14, "fontWeight": "normal", "color": "#000000"},
              "layer": [
                {"mark": {"type": "bar"},
                 "encoding": {
                   "x": {"field": "antigen", "type": "nominal", "scale": {"domain": ["PPD","Ag85B","CFP10","ESAT6","38kDa","16kDa"], "paddingInner": 0, "paddingOuter": 0.316, "align": 0.866}, "axis": {"title": null, "offset": -14, "domain": false, "ticks": false, "labelAngle": 0, "labelPadding": 2, "labelFontSize": 8.5, "labelColor": "#333333", "labelOverlap": false}},
                   "xOffset": {"field": "day", "type": "nominal", "scale": {"paddingInner": 0, "paddingOuter": 0.7}},
                   "y": {"field": "value", "type": "quantitative", "scale": {"domain": [-34, 130], "nice": false}, "axis": {"values": [0,25,50,75,100], "tickCount": 10, "offset": -27, "domain": false, "grid": false, "tickSize": 3, "tickColor": "#a0a0a0", "labelFontSize": 9, "labelColor": "#404040", "labelPadding": 1, "labelOverlap": false, "title": null}},
                   "color": {"field": "day", "type": "nominal", "scale": {"domain": ["Day 35","Day 56","Day 63"], "range": ["#000000","#5a5a5a","#bdbdbd"]}, "legend": {"title": "25 µg RUTI®", "legendX": 110, "legendY": 6}}
                 }},
                {"transform": [{"filter": "datum.day == 'Day 35'"}], "mark": {"type": "tick", "orient": "horizontal", "size": 49, "thickness": 1, "color": "#999999"}, "encoding": {"x": {"field": "antigen", "type": "nominal"}, "y": {"datum": 0}}},
                {"transform": [{"filter": "datum.day == 'Day 35'"}], "mark": {"type": "tick", "orient": "horizontal", "size": 49, "thickness": 1, "color": "#8c8c8c"}, "encoding": {"x": {"field": "antigen", "type": "nominal"}, "y": {"datum": 50}}},
                {"transform": [{"filter": "datum.day == 'Day 35' && datum.antigen == 'PPD'"}], "mark": {"type": "rule", "color": "#a6a6a6", "strokeWidth": 1}, "encoding": {"x": {"field": "antigen", "type": "nominal", "bandPosition": 0}, "y": {"datum": 0}, "y2": {"datum": 100}}}
              ]
            },
            {
              "width": 321, "height": 100,
              "transform": [{"filter": "datum.panel == 'L'"}],
              "title": {"text": "L", "anchor": "start", "frame": "group", "offset": -13, "dx": 3, "fontSize": 14, "fontWeight": "normal", "color": "#000000"},
              "layer": [
                {"mark": {"type": "bar"},
                 "encoding": {
                   "x": {"field": "antigen", "type": "nominal", "scale": {"domain": ["PPD","Ag85B","CFP10","ESAT6","38kDa","16kDa"], "paddingInner": 0, "paddingOuter": 0.316, "align": 0.866}, "axis": {"title": null, "offset": -14, "domain": false, "ticks": false, "labelAngle": 0, "labelPadding": 2, "labelFontSize": 8.5, "labelColor": "#333333", "labelOverlap": false}},
                   "xOffset": {"field": "day", "type": "nominal", "scale": {"paddingInner": 0, "paddingOuter": 0.7}},
                   "y": {"field": "value", "type": "quantitative", "scale": {"domain": [-34, 130], "nice": false}, "axis": {"values": [0,25,50,75,100], "tickCount": 10, "offset": -27, "domain": false, "grid": false, "tickSize": 3, "tickColor": "#a0a0a0", "labelFontSize": 9, "labelColor": "#404040", "labelPadding": 1, "labelOverlap": false, "title": null}},
                   "color": {"field": "day", "type": "nominal", "scale": {"domain": ["Day 35","Day 56","Day 63"], "range": ["#123b1c","#1e9646","#8ecf55"]}, "legend": {"title": "50 µg RUTI®", "legendX": 110, "legendY": 6}}
                 }},
                {"transform": [{"filter": "datum.day == 'Day 35'"}], "mark": {"type": "tick", "orient": "horizontal", "size": 49, "thickness": 1, "color": "#999999"}, "encoding": {"x": {"field": "antigen", "type": "nominal"}, "y": {"datum": 0}}},
                {"transform": [{"filter": "datum.day == 'Day 35'"}], "mark": {"type": "tick", "orient": "horizontal", "size": 49, "thickness": 1, "color": "#8c8c8c"}, "encoding": {"x": {"field": "antigen", "type": "nominal"}, "y": {"datum": 50}}},
                {"transform": [{"filter": "datum.day == 'Day 35' && datum.antigen == 'PPD'"}], "mark": {"type": "rule", "color": "#a6a6a6", "strokeWidth": 1}, "encoding": {"x": {"field": "antigen", "type": "nominal", "bandPosition": 0}, "y": {"datum": 0}, "y2": {"datum": 100}}}
              ]
            }
          ]
        }
      ]
    }
  ],
  "config": {
    "font": "Liberation Sans",
    "view": {"stroke": "#c4c4c4", "strokeWidth": 1},
    "axis": {"labelFont": "Liberation Sans", "titleFont": "Liberation Sans", "labelOverlap": false},
    "legend": {
      "orient": "none",
      "direction": "horizontal",
      "titleAnchor": "middle",
      "titleFont": "Liberation Sans",
      "titleFontSize": 12,
      "titleFontWeight": "normal",
      "titleColor": "#000000",
      "titlePadding": 1,
      "labelFont": "Liberation Sans",
      "labelFontSize": 9,
      "labelColor": "#222222",
      "labelOffset": 2,
      "symbolType": "square",
      "symbolSize": 30,
      "symbolStrokeWidth": 0,
      "columnPadding": 7,
      "padding": 0
    }
  }
}
